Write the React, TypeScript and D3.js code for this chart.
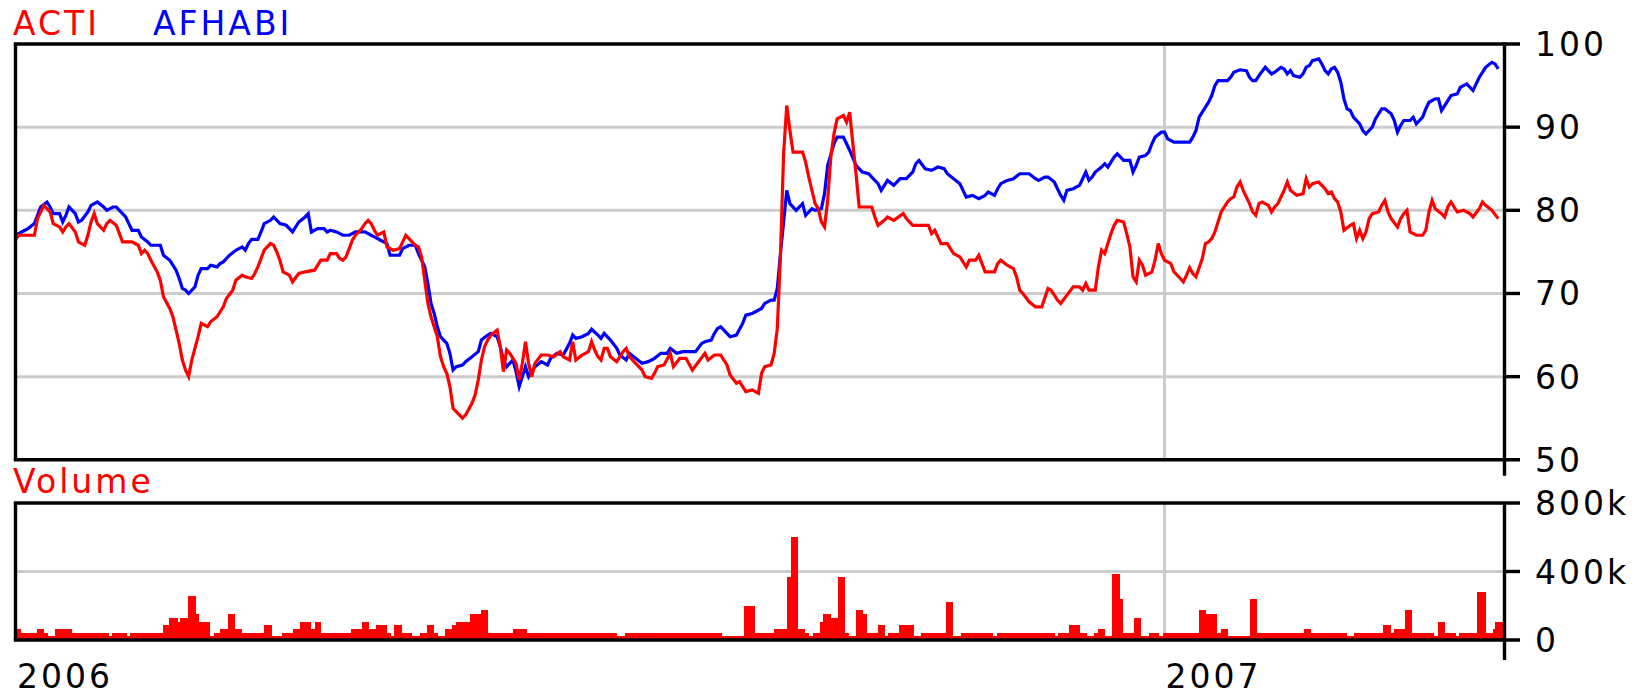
import React from "react";
import * as d3 from "d3";

const W = 1647;
const H = 697;
const FONT = "'DejaVu Sans', Verdana, sans-serif";

const startDate = new Date(2006, 0, 1);
const endDate = new Date(2007, 3, 19);
const yearTicks = [new Date(2006, 0, 1), new Date(2007, 0, 1)];
const priceTicks = [50, 60, 70, 80, 90, 100];
const volumeTicks = [0, 400, 800];
const seriesNames = ["ACTI", "AFHABI"];

// [day offset from 2006-01-01, price]
const acti: [number, number][] = [
  [0, 76.5], [1, 77], [6, 77], [7, 79], [9, 80.6], [11, 79.8], [12, 78.4], [14, 78], [15, 77.4], [16, 78],
  [17, 78.4], [19, 77.4], [20, 76.2], [21, 76], [22, 75.8], [23, 77], [24, 78.6], [25, 79.6], [26, 78.4], [28, 77.6],
  [29, 78.4], [30, 78.8], [32, 78.2], [33, 77.2], [34, 76.2], [37, 76.2], [39, 75.8], [40, 74.8], [41, 75.2], [42, 74.8],
  [43, 74], [45, 72.6], [46, 71.6], [47, 69.6], [49, 68.2], [50, 67.2], [51, 65.6], [52, 64], [53, 62], [54, 60.8],
  [55, 60], [56, 62], [58, 64.8], [59, 66.4], [61, 66], [62, 66.6], [64, 67.2], [65, 67.8], [66, 68.4], [67, 69.4],
  [69, 70.4], [70, 71.6], [72, 72.2], [73, 72], [75, 71.8], [76, 72.4], [77, 73.2], [78, 74.2], [79, 75.2], [81, 76],
  [82, 75.8], [83, 75], [84, 74], [85, 72.6], [87, 72.2], [88, 71.4], [90, 72.4], [92, 72.6], [95, 72.8], [96, 73.4],
  [97, 74], [99, 74], [100, 74.8], [102, 74.8], [103, 74.2], [104, 74], [105, 74.4], [106, 75.4], [107, 76.4], [108, 77],
  [110, 77.8], [111, 78.4], [112, 78.8], [113, 78.4], [114, 77.6], [115, 77], [117, 77.4], [118, 75.6], [120, 75.2], [122, 75.4],
  [123, 76.2], [124, 77], [125, 76.6], [127, 75.8], [128, 75.6], [129, 74.4], [130, 71.6], [131, 68.8], [132, 67.2], [133, 66],
  [134, 64.8], [135, 62.4], [136, 61.2], [137, 60.4], [138, 58.8], [139, 56.2], [141, 55.4], [142, 55], [143, 55.4], [145, 56.8],
  [146, 57.8], [147, 59.6], [148, 62], [149, 63.6], [150, 64.4], [151, 65], [153, 65.6], [154, 63.6], [155, 60.6], [156, 63.2],
  [157, 62.8], [159, 61.6], [160, 59.6], [161, 61.6], [162, 64.2], [163, 61.6], [164, 60], [165, 61.6], [167, 62.6], [169, 62.6],
  [171, 62.4], [173, 63], [174, 62.4], [176, 62], [177, 64.2], [178, 62], [180, 62.6], [182, 63], [183, 64.2], [184, 63.2],
  [185, 62.4], [186, 62], [187, 63.4], [188, 63.4], [189, 62.4], [191, 61.8], [193, 63], [194, 63.4], [195, 62.4], [197, 61.6],
  [199, 60.8], [200, 60], [202, 59.8], [203, 60.4], [204, 61.2], [206, 61.4], [208, 62.8], [209, 61.2], [211, 62.2], [213, 62.2],
  [215, 60.8], [217, 61.8], [219, 62.8], [220, 62], [222, 62.6], [224, 62.6], [226, 61.4], [227, 60.2], [229, 59.2], [230, 59.4],
  [232, 58.2], [234, 58.4], [236, 58], [237, 60.4], [238, 61.2], [240, 61.4], [241, 62.8], [242, 65.8], [243, 74.6], [244, 86.8],
  [245, 92.6], [246, 89.6], [247, 87], [250, 87], [251, 85.8], [252, 84], [253, 82.4], [254, 80.8], [255, 80.2], [256, 78.6],
  [257, 78], [258, 81.2], [259, 86.4], [260, 89.2], [261, 91], [263, 91.4], [264, 90.6], [265, 91.8], [266, 88], [267, 84.4],
  [268, 80.4], [272, 80.4], [273, 79.2], [274, 78.2], [276, 78.8], [277, 79.2], [279, 78.8], [282, 79.6], [283, 79], [285, 78.2],
  [290, 78.2], [291, 77.2], [292, 77.6], [293, 76.8], [294, 76], [296, 76], [298, 74.8], [300, 74.4], [302, 73.2], [303, 74],
  [305, 74], [306, 74.6], [308, 72.6], [311, 72.6], [312, 73.6], [313, 74], [315, 73.4], [317, 73], [318, 72], [319, 70.4],
  [320, 70], [322, 69], [324, 68.4], [326, 68.4], [328, 70.6], [329, 70.4], [331, 69.2], [332, 68.8], [334, 69.8], [336, 70.8],
  [338, 70.8], [339, 70.4], [340, 71.2], [341, 70.4], [343, 70.4], [344, 73.2], [345, 75.2], [346, 74.8], [347, 76], [348, 77.2],
  [349, 78.2], [350, 78.8], [352, 78.6], [353, 77.2], [354, 75.6], [355, 72], [356, 71.4], [357, 74], [358, 73.4], [359, 72.2],
  [361, 72.6], [362, 74], [363, 76], [364, 74.8], [365, 74], [367, 73.6], [368, 72.6], [370, 71.8], [371, 71.4], [372, 72.2],
  [373, 73.1], [374, 72.4], [375, 72], [377, 74.2], [378, 76], [379, 76.2], [380, 76.6], [381, 77.4], [382, 78.6], [383, 79.8],
  [385, 81], [386, 81.4], [387, 81.6], [388, 82.8], [389, 83.4], [390, 82.4], [392, 80.8], [393, 79.8], [394, 79.4], [395, 80.8],
  [396, 81], [398, 80.6], [399, 79.8], [400, 80.4], [401, 80.8], [402, 81.6], [403, 82.4], [404, 83.4], [405, 82.4], [407, 81.8],
  [409, 82], [410, 83.8], [411, 82.8], [412, 83.2], [414, 83.4], [416, 82.6], [417, 82], [418, 82.2], [419, 81.4], [420, 81],
  [421, 79.8], [422, 77.6], [424, 78.2], [425, 78.4], [426, 76.6], [427, 77.6], [428, 76.6], [429, 77.4], [430, 79], [431, 79.6],
  [433, 79.8], [434, 80.6], [435, 81.2], [436, 79.8], [437, 79], [439, 78], [440, 79], [441, 79.6], [442, 80], [443, 77.4],
  [445, 77], [447, 77], [448, 77.6], [449, 79.8], [450, 81.2], [451, 80.2], [453, 79.6], [454, 79.2], [455, 80.4], [456, 81],
  [457, 80.4], [458, 79.8], [460, 80], [462, 79.6], [463, 79.2], [465, 80.2], [466, 81], [467, 80.6], [469, 80], [471, 79],
];

const afhabi: [number, number][] = [
  [0, 77], [3, 77.6], [4, 77.8], [6, 78.4], [7, 79.4], [8, 80.4], [10, 81], [11, 80.4], [12, 79.6], [14, 79.6],
  [15, 78.6], [16, 79.4], [17, 80.4], [19, 79.6], [20, 78.6], [21, 78.8], [23, 79.8], [24, 80.6], [26, 81], [28, 80.4],
  [29, 80], [31, 80.4], [32, 80.4], [34, 79.6], [35, 79.2], [36, 78.4], [37, 77.6], [39, 77.6], [40, 76.8], [42, 76.2],
  [43, 75.8], [46, 75.8], [47, 74.6], [49, 74], [50, 73.4], [51, 72.8], [52, 71.8], [53, 70.6], [54, 70.4], [55, 70],
  [57, 70.8], [58, 72.2], [59, 73], [61, 73], [62, 73.4], [64, 73.2], [65, 73.6], [66, 73.8], [68, 74.6], [70, 75.2],
  [72, 75.6], [73, 75.2], [74, 76], [75, 76.5], [77, 76.5], [78, 77.4], [79, 78.4], [81, 78.8], [82, 79.2], [84, 78.4],
  [86, 78.2], [88, 77.4], [90, 78.6], [92, 79.2], [93, 79.6], [94, 77.4], [96, 77.8], [98, 77.8], [99, 77.4], [100, 77.6],
  [102, 77.4], [104, 77], [106, 77], [108, 77.4], [111, 77.4], [113, 77], [114, 76.8], [116, 76.4], [118, 76], [119, 74.6],
  [122, 74.6], [123, 75.4], [125, 75.8], [127, 75.8], [128, 74.8], [130, 73.2], [131, 71.2], [132, 68.8], [133, 67.6], [134, 66],
  [135, 64.8], [137, 64], [138, 62.8], [139, 60.8], [140, 61.2], [142, 61.4], [143, 61.8], [145, 62.4], [147, 63], [148, 64.4],
  [150, 65], [151, 65.2], [153, 64.8], [154, 63.6], [155, 62], [156, 61.2], [158, 62], [159, 60.6], [160, 58.8], [161, 60],
  [162, 61.2], [163, 60], [165, 61.2], [167, 61.8], [169, 61.4], [170, 62.2], [172, 62.8], [174, 62.6], [176, 64], [177, 65],
  [178, 64.6], [180, 64.8], [182, 65.2], [183, 65.7], [185, 65], [186, 64.6], [187, 65.2], [189, 64.4], [191, 63.4], [192, 62.6],
  [194, 62], [195, 62.8], [197, 62.2], [199, 61.6], [201, 61.8], [203, 62.2], [205, 62.8], [207, 62.8], [208, 63.4], [210, 62.8],
  [212, 63], [216, 63], [218, 64], [219, 64.2], [221, 64.4], [222, 65.2], [223, 65.8], [224, 66], [226, 65.2], [227, 64.8],
  [229, 65], [231, 66.4], [232, 67.4], [234, 67.6], [237, 68.2], [238, 68.8], [240, 69.2], [241, 69.2], [242, 70.6], [243, 74.8],
  [245, 82.4], [246, 80.8], [248, 80], [249, 80.4], [250, 80.8], [251, 79.4], [253, 80.2], [254, 80], [256, 80.2], [257, 82],
  [258, 85.4], [260, 88], [261, 88.8], [263, 88.8], [264, 88], [265, 87.2], [267, 85.4], [269, 84.6], [271, 84.4], [272, 84],
  [274, 83.2], [275, 82.4], [276, 83], [277, 83.6], [279, 83], [281, 83.8], [283, 83.8], [285, 84.6], [286, 85.6], [287, 86],
  [289, 85], [291, 84.8], [293, 85.2], [295, 85], [296, 84.4], [298, 83.8], [300, 83.2], [301, 82.4], [302, 81.6], [304, 81.8],
  [306, 81.4], [308, 81.8], [309, 82.2], [311, 81.8], [312, 82.6], [313, 83.2], [315, 83.6], [317, 83.8], [319, 84.4], [322, 84.4],
  [324, 83.8], [325, 83.6], [327, 84], [328, 84], [330, 83.4], [331, 82.6], [332, 81.8], [333, 81.2], [334, 82.4], [336, 82.6],
  [338, 83], [339, 83.8], [340, 84.6], [341, 83.6], [342, 84], [343, 84.6], [345, 85.2], [346, 85.6], [347, 85.2], [348, 85.8],
  [349, 86.4], [350, 86.8], [352, 86], [354, 86], [355, 84.6], [356, 85.4], [357, 86.4], [359, 86.6], [360, 87], [361, 88],
  [362, 88.8], [364, 89.4], [365, 89.4], [366, 88.6], [368, 88.2], [370, 88.2], [373, 88.2], [374, 88.8], [375, 89.6], [376, 91.2],
  [378, 92.4], [379, 93], [380, 93.8], [381, 95], [382, 95.6], [385, 95.6], [386, 96], [387, 96.6], [389, 96.9], [391, 96.8],
  [392, 96], [393, 95.6], [394, 95.6], [395, 96.2], [397, 97.2], [399, 96.4], [400, 96.6], [402, 97.2], [403, 97], [404, 96.4],
  [405, 96.8], [406, 96.2], [408, 96], [409, 96.4], [410, 97.2], [411, 97.4], [412, 98], [414, 98.2], [415, 97.6], [416, 96.8],
  [417, 96.4], [418, 97], [419, 97.2], [420, 96.6], [421, 95.4], [422, 93.4], [423, 92.2], [424, 92], [425, 91.2], [427, 90.4],
  [428, 89.6], [429, 89.2], [430, 89.6], [431, 90], [432, 91], [434, 92.2], [435, 92.2], [437, 91.6], [438, 90.8], [439, 89.4],
  [440, 90.2], [441, 90.8], [443, 90.8], [444, 91.2], [445, 90.4], [446, 90.8], [447, 91.2], [448, 92.2], [449, 93], [451, 93.4],
  [452, 93.4], [453, 92], [455, 93.2], [456, 93.8], [458, 94], [459, 94.8], [461, 95.2], [462, 94.8], [463, 94.4], [464, 95.2],
  [465, 96], [466, 96.6], [467, 97.2], [469, 97.8], [470, 97.6], [471, 97],
];

// [day offset where the step starts, ACTI volume in thousands]
const volume: [number, number][] = [
  [0, 66], [1.9, 42], [6.7, 66], [8.9, 42], [10.2, 24], [12.4, 66], [18.1, 42], [29.6, 24], [30.8, 42], [35.3, 24],
  [36.5, 42], [46.7, 90], [48.9, 131], [51.5, 107], [52.4, 131], [54.7, 257], [57.2, 149], [58.2, 107], [61.7, 24], [62.9, 42],
  [65.1, 66], [67.4, 149], [69.6, 66], [72.1, 42], [78.8, 90], [81.4, 24], [84.5, 42], [88, 66], [90.3, 107], [93.8, 66],
  [95, 107], [97.2, 42], [106.5, 66], [110, 107], [112.2, 66], [114.4, 90], [117.9, 42], [119.2, 24], [120.1, 90], [122.7, 42],
  [125.8, 24], [128.4, 42], [130.6, 90], [132.8, 42], [134.1, 24], [136.3, 66], [138.6, 90], [139.8, 107], [144.3, 149], [147.8, 173],
  [150, 42], [158.1, 66], [162.5, 42], [191.1, 24], [193.6, 42], [224.5, 24], [231.5, 197], [235, 42], [240.8, 66], [245.1, 370],
  [246.4, 600], [248.6, 66], [250.8, 42], [252.1, 24], [253.4, 42], [255.6, 107], [256.6, 149], [259.1, 131], [261.4, 370], [263.6, 42],
  [264.8, 24], [267.1, 173], [269.3, 149], [270.6, 42], [274.1, 90], [276.3, 24], [277.2, 42], [280.7, 90], [285.5, 24], [287.7, 42],
  [295.7, 219], [297.9, 24], [300.4, 42], [310.6, 24], [311.9, 42], [330.3, 24], [331.2, 42], [334.7, 90], [338.2, 42], [340.5, 24],
  [342.7, 42], [344, 66], [346.2, 24], [348.4, 388], [350.9, 239], [351.9, 42], [355.4, 131], [357.6, 24], [360.2, 42], [363.3, 24],
  [364.6, 42], [376.1, 173], [378.3, 149], [381.8, 42], [383, 66], [385.3, 24], [392.3, 239], [394.5, 42], [409.4, 66], [411.6, 42],
  [423.1, 24], [425.3, 42], [434.5, 90], [437.1, 42], [438, 66], [441.5, 173], [443.7, 42], [450.7, 24], [452, 107], [454.2, 42],
  [457.7, 24], [458.7, 42], [464.4, 283], [467, 42], [469.2, 66], [470.1, 107], [472.7, 107],
];

const left = 15.5;
const right = 1504.5;
const tickEnd = 1520;
const priceTop = 44;
const priceBottom = 459.8;
const volTop = 503;
const volBottom = 640;
const labelX = 1535;
const grid = "#cccccc";

const dayToDate = (d: number) => new Date(startDate.getTime() + d * 864e5);

const App = () => {
  const x = d3.scaleTime().domain([startDate, endDate]).range([left, right]);
  const y = d3.scaleLinear().domain([50, 100]).range([priceBottom, priceTop]);
  const yv = d3.scaleLinear().domain([0, 800]).range([volBottom, volTop]);

  const line = d3
    .line<[number, number]>()
    .x((d) => x(dayToDate(d[0])))
    .y((d) => y(d[1]));

  const jan2007 = x(yearTicks[1]);
  const txt = { fontFamily: FONT, fontSize: 33, letterSpacing: 3 };

  return (
    <svg
      width={W}
      height={H}
      style={{ position: "absolute", left: 0, top: 0, background: "#fff" }}
    >
      <defs>
        <clipPath id="plot">
          <rect x={left} y={priceTop} width={right - left} height={priceBottom - priceTop} />
        </clipPath>
      </defs>

      {/* legend */}
      <text x={13} y={35} fill="#ff0000" {...txt}>{seriesNames[0]}</text>
      <text x={153} y={35} fill="#0000ff" {...txt}>{seriesNames[1]}</text>

      {/* price grid */}
      {priceTicks.slice(1, -1).map((t) => (
        <line key={"g" + t} x1={left} x2={right} y1={y(t)} y2={y(t)} stroke={grid} strokeWidth={3} />
      ))}
      <line x1={jan2007} x2={jan2007} y1={priceTop} y2={priceBottom} stroke={grid} strokeWidth={3} />

      <g clipPath="url(#plot)">
        <path d={line(afhabi) || ""} fill="none" stroke="#0000ff" strokeWidth={3.2} />
        <path d={line(acti) || ""} fill="none" stroke="#ff0000" strokeWidth={3.2} />
      </g>

      {/* price frame + axis */}
      <line x1={left} x2={left} y1={priceTop} y2={priceBottom} stroke="#000" strokeWidth={3.4} />
      <line x1={right} x2={right} y1={priceTop - 1.7} y2={priceBottom + 16} stroke="#000" strokeWidth={3.4} />
      {priceTicks.map((t) => (
        <g key={"p" + t}>
          <line
            x1={t === 50 || t === 100 ? left - 1.7 : right}
            x2={tickEnd}
            y1={y(t)}
            y2={y(t)}
            stroke="#000"
            strokeWidth={3.4}
          />
          <text x={labelX} y={y(t) + 12} fill="#000" {...txt}>{t}</text>
        </g>
      ))}

      {/* volume */}
      <text x={13} y={493} fill="#ff0000" {...txt}>Volume</text>
      {volumeTicks.slice(1, -1).map((t) => (
        <line key={"vg" + t} x1={left} x2={right} y1={yv(t)} y2={yv(t)} stroke={grid} strokeWidth={3} />
      ))}
      <line x1={jan2007} x2={jan2007} y1={volTop} y2={volBottom} stroke={grid} strokeWidth={3} />
      <g shapeRendering="crispEdges">
        {volume.slice(0, -1).map((v, i) => {
          const x0 = x(dayToDate(v[0]));
          const x1 = x(dayToDate(volume[i + 1][0]));
          return (
            <rect
              key={"v" + i}
              x={x0}
              y={yv(v[1])}
              width={Math.max(0, x1 - x0)}
              height={volBottom - yv(v[1])}
              fill="#ff0000"
            />
          );
        })}
      </g>
      <line x1={left} x2={left} y1={volTop} y2={volBottom} stroke="#000" strokeWidth={3.4} />
      <line x1={right} x2={right} y1={volTop} y2={volBottom + 20} stroke="#000" strokeWidth={3.4} />
      {volumeTicks.map((t) => (
        <g key={"vt" + t}>
          <line
            x1={t === 0 || t === 800 ? left - 1.7 : right}
            x2={tickEnd}
            y1={yv(t)}
            y2={yv(t)}
            stroke="#000"
            strokeWidth={3.4}
          />
          <text x={labelX} y={yv(t) + 12} fill="#000" {...txt}>{t === 0 ? "0" : t + "k"}</text>
        </g>
      ))}

      {/* years */}
      {yearTicks.map((d, i) => (
        <text key={"yr" + i} x={x(d) + (i === 0 ? 1.5 : 1)} y={688} fill="#000" {...txt}>
          {d3.timeFormat("%Y")(d)}
        </text>
      ))}
    </svg>
  );
};

export default App;
